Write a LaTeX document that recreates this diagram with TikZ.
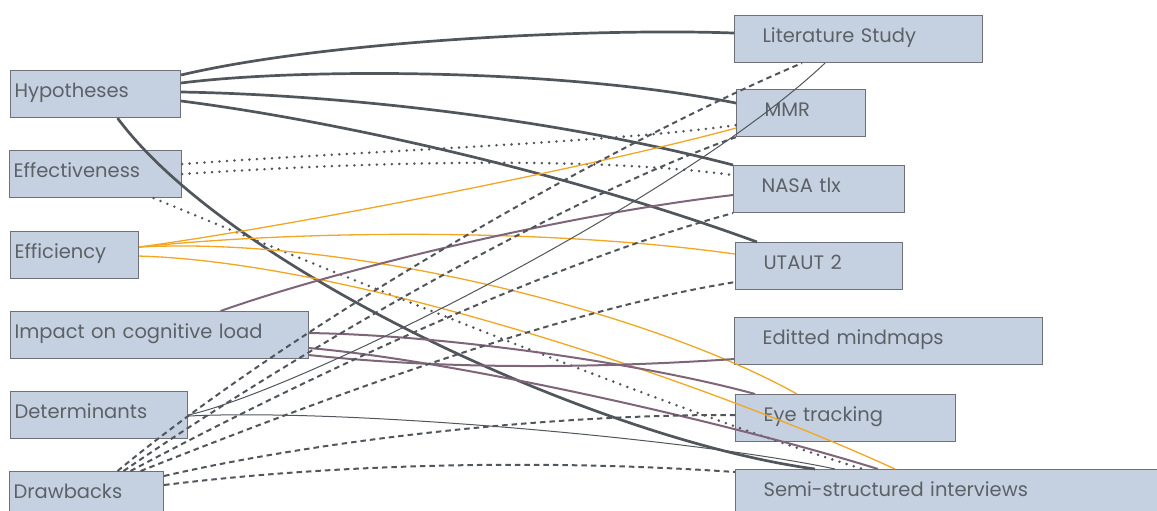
\documentclass[tikz,border=0pt]{standalone}
\usepackage{fontspec}
\setmainfont{Poppins}

\definecolor{boxfill}{HTML}{C5D1E1}
\definecolor{boxedge}{HTML}{6E7177}
\definecolor{labelgray}{HTML}{5C6168}
\definecolor{linkdark}{HTML}{51555C}
\definecolor{linkorange}{HTML}{F2A623}
\definecolor{linkpurple}{HTML}{7E6579}

\begin{document}
\begin{tikzpicture}[x=1pt,y=-1pt,
  box/.style={draw=boxedge, fill=boxfill, line width=1.1pt, anchor=north west, align=left,
    text=labelgray, font=\fontsize{19.5}{22}\selectfont, text height=15pt, text depth=8pt,
    inner ysep=0pt, minimum height=47pt},
  lbox/.style={box, inner xsep=4pt},
  rbox/.style={box, inner xsep=28pt},
  hyplink/.style={draw=linkdark, line width=2.7pt},
  thinlink/.style={draw=linkdark, line width=1pt},
  dotlink/.style={draw=linkdark, line width=2.8pt, line cap=round, dash pattern=on 0pt off 7.5pt},
  dashlink/.style={draw=linkdark, line width=2pt, dash pattern=on 5.5pt off 4pt},
  orangelink/.style={draw=linkorange, line width=1.3pt},
  purplelink/.style={draw=linkpurple, line width=2pt}]

  \useasboundingbox (0,0) rectangle (1157,511);

  \foreach \name/\x/\y/\w/\txt in {hyp/10/70/162pt/Hypotheses, effect/9/150/164pt/Effectiveness,
      effic/10/231/120pt/Efficiency, impact/10/311/290pt/Impact on cognitive load,
      determ/10/391/169pt/Determinants, drawb/9/471/146pt/Drawbacks}
    \node[lbox, text width=\w] (\name) at (\x,\y) {\txt};

  \foreach \name/\x/\y/\w/\txt in {lit/734/15/192pt/Literature Study, mmr/736/89/73pt/MMR,
      nasa/733/165/115pt/NASA tlx, utaut/735/242/111pt/UTAUT 2,
      mindmap/734/317/252pt/Editted mindmaps, eyetrack/735/394/164pt/Eye tracking,
      interview/735/469/384pt/Semi-structured interviews}
    \node[rbox, text width=\w] (\name) at (\x,\y) {\txt};

  \draw[hyplink] ([yshift=-5]hyp.north east) .. controls (330,40) and (600,28) .. ([yshift=6]lit.west);
  \draw[hyplink] ([yshift=-13]hyp.north east) .. controls (300,68) and (560,68) .. ([yshift=10]mmr.west);
  \draw[hyplink] ([yshift=-22]hyp.north east) .. controls (350,95) and (560,120) .. (nasa.north west);
  \draw[hyplink] ([yshift=-31]hyp.north east) .. controls (330,120) and (560,170) .. ([xshift=22]utaut.north west);
  \draw[hyplink] ([xshift=22]hyp.south) .. controls (230,270) and (600,440) .. ([xshift=80]interview.north west);

  \draw[dotlink] ([yshift=10]effect.east) .. controls (350,152) and (620,142) .. ([yshift=-12]mmr.west);
  \draw[dotlink] (effect.east) .. controls (350,163) and (580,155) .. ([yshift=14]nasa.west);
  \draw[dotlink] ([xshift=58]effect.south) .. controls (400,300) and (700,420) .. ([xshift=128]interview.north west);

  \draw[orangelink] ([yshift=8]effic.east) .. controls (300,225) and (600,165) .. ([yshift=-15]mmr.west);
  \draw[orangelink] ([yshift=8]effic.east) .. controls (300,230) and (550,228) .. ([yshift=12]utaut.west);
  \draw[orangelink] ([yshift=8]effic.east) .. controls (350,236) and (650,312) .. ([xshift=62]eyetrack.north west);
  \draw[orangelink] ([yshift=-1]effic.east) .. controls (350,262) and (700,380) .. ([xshift=160]interview.north west);

  \draw[purplelink] ([xshift=61]impact.north) .. controls (330,272) and (560,215) .. ([yshift=-6]nasa.west);
  \draw[purplelink] ([yshift=2]impact.east) .. controls (450,335) and (650,365) .. ([xshift=20]eyetrack.north west);
  \draw[purplelink] ([yshift=-13]impact.east) .. controls (450,360) and (720,420) .. ([xshift=143]interview.north west);
  \draw[purplelink] ([yshift=-20]impact.east) .. controls (450,370) and (600,368) .. ([yshift=-18]mindmap.west);

  \draw[thinlink] (determ.east) .. controls (300,390) and (680,200) .. ([xshift=91]lit.south west);
  \draw[thinlink] ([yshift=-1]determ.east) .. controls (350,408) and (700,440) .. ([xshift=100]interview.north west);

  \draw[dashlink] ([xshift=31]drawb.north) .. controls (300,320) and (620,140) .. ([xshift=68]lit.south west);
  \draw[dashlink] ([xshift=37]drawb.north) .. controls (300,350) and (560,200) .. (mmr.south west);
  \draw[dashlink] ([xshift=44]drawb.north) .. controls (320,370) and (560,260) .. (nasa.south west);
  \draw[dashlink] ([xshift=54]drawb.north) .. controls (320,400) and (560,310) .. ([yshift=8]utaut.south west);
  \draw[dashlink] ([yshift=-5]drawb.north east) .. controls (320,440) and (550,414) .. ([yshift=3]eyetrack.west);
  \draw[dashlink] ([yshift=-14]drawb.north east) .. controls (350,462) and (560,460) .. ([yshift=-3]interview.north west);
\end{tikzpicture}
\end{document}
